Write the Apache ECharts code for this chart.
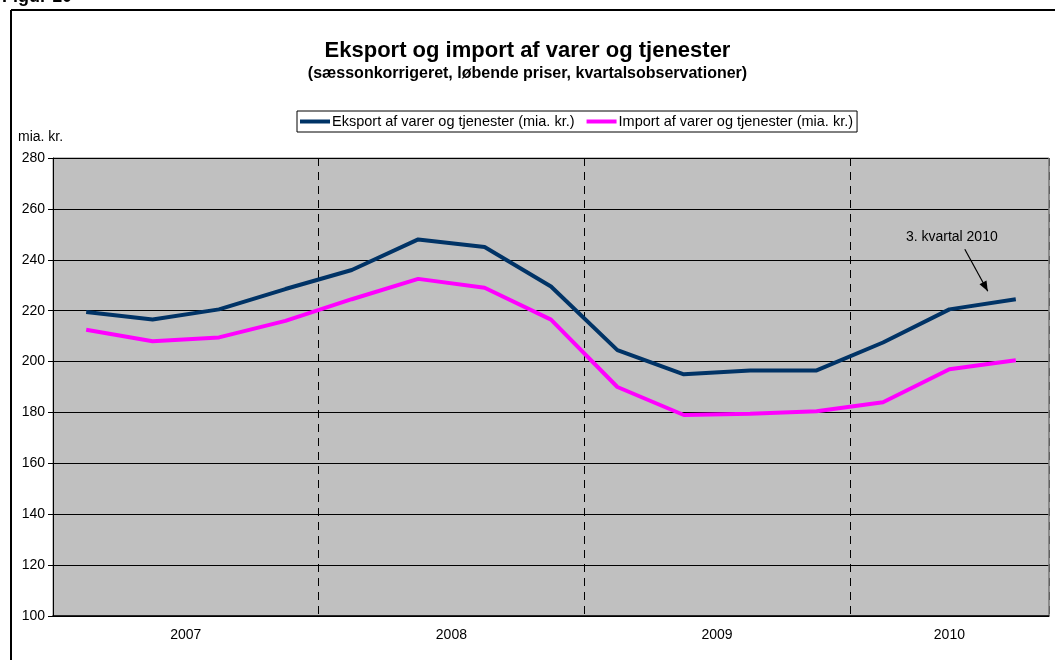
<!DOCTYPE html>
<html>
<head>
<meta charset="utf-8">
<script src="https://cdn.jsdelivr.net/npm/echarts@6/dist/echarts.min.js"></script>
<style>
  html, body { margin: 0; padding: 0; background: #fff; }
  #main { width: 1055px; height: 660px; }
</style>
</head>
<body>
<div id="main"></div>
<script>
// quarters 2007K1 .. 2010K3
var quarters = [
  '2007K1', '2007K2', '2007K3', '2007K4',
  '2008K1', '2008K2', '2008K3', '2008K4',
  '2009K1', '2009K2', '2009K3', '2009K4',
  '2010K1', '2010K2', '2010K3'
];
var years = ['2007', '2008', '2009', '2010'];
// centre of each year's quarters, in quarter units from the left edge
var yearCentres = [2, 6, 10, 13.5];
// first quarter of each new year gets a dashed separator
var yearStarts = ['2008K1', '2009K1', '2010K1'];

var eksport = [219.5, 216.5, 220.5, 228.5, 236, 248, 245, 229.5, 204.5, 195, 196.5, 196.5, 207.5, 220.5, 224.5];
var importData = [212.5, 208, 209.5, 216, 224.5, 232.5, 229, 216.5, 190, 179, 179.5, 180.5, 184, 197, 200.5];

var font = 'Arial, "Liberation Sans", sans-serif';

var myChart = echarts.init(document.getElementById('main'));

var option = {
  animation: false,
  backgroundColor: '#ffffff',
  textStyle: { fontFamily: font },
  title: {
    text: 'Eksport og import af varer og tjenester',
    subtext: '(sæssonkorrigeret, løbende priser, kvartalsobservationer)',
    left: 'center',
    top: 35,
    itemGap: 4,
    textStyle: { fontSize: 22, fontWeight: 'bold', color: '#000', fontFamily: font },
    subtextStyle: { fontSize: 16, fontWeight: 'bold', color: '#000', fontFamily: font }
  },
  legend: {
    top: 111,
    left: 297,
    padding: [3, 4, 3, 3],
    itemGap: 12,
    itemWidth: 30,
    itemHeight: 4,
    icon: 'rect',
    borderColor: '#000',
    borderWidth: 1,
    textStyle: { fontSize: 14.5, color: '#000', fontFamily: font, padding: [0, 0, 0, -3] },
    data: [
      'Eksport af varer og tjenester (mia. kr.)',
      'Import af varer og tjenester (mia. kr.)'
    ]
  },
  grid: {
    left: 53,
    right: 6,
    top: 158,
    bottom: 44,
    show: true,
    backgroundColor: '#c0c0c0',
    borderColor: '#808080',
    borderWidth: 1
  },
  xAxis: [
    {
      type: 'category',
      data: quarters,
      boundaryGap: true,
      axisLine: { lineStyle: { color: '#000', width: 1.5 } },
      axisTick: {
        length: 6,
        lineStyle: { color: '#000' },
        interval: function (index, value) { return index === 0 || yearStarts.indexOf(value) >= 0; }
      },
      axisLabel: { show: false },
      splitLine: {
        show: true,
        interval: function (index, value) { return yearStarts.indexOf(value) >= 0; },
        lineStyle: { color: '#000', type: [8, 6], width: 1 }
      }
    },
    {
      // year labels, placed at the centre of each year's quarters
      type: 'value',
      min: 0,
      max: quarters.length,
      position: 'bottom',
      axisLine: { show: false },
      axisTick: { show: false },
      splitLine: { show: false },
      axisLabel: {
        customValues: yearCentres,
        margin: 12,
        fontSize: 14,
        color: '#000',
        fontFamily: font,
        formatter: function (v) {
          return years[yearCentres.indexOf(v)];
        }
      }
    }
  ],
  yAxis: {
    type: 'value',
    min: 100,
    max: 280,
    interval: 20,
    name: 'mia. kr.',
    nameLocation: 'end',
    nameGap: 14,
    nameTextStyle: { fontSize: 14, color: '#000', align: 'left', padding: [0, 0, 0, -35], fontFamily: font },
    axisLine: { show: true, lineStyle: { color: '#000' } },
    axisTick: { show: true, length: 5, lineStyle: { color: '#000' } },
    axisLabel: { fontSize: 14, color: '#000', margin: 8, fontFamily: font },
    splitLine: { lineStyle: { color: '#000', width: 1 } }
  },
  series: [
    {
      name: 'Eksport af varer og tjenester (mia. kr.)',
      type: 'line',
      data: eksport,
      symbol: 'none',
      lineStyle: { color: '#003366', width: 4 },
      itemStyle: { color: '#003366' },
      z: 3
    },
    {
      name: 'Import af varer og tjenester (mia. kr.)',
      type: 'line',
      data: importData,
      symbol: 'none',
      lineStyle: { color: '#ff00ff', width: 4 },
      itemStyle: { color: '#ff00ff' },
      z: 2
    }
  ]
};

myChart.setOption(option);

// annotation pointing at the last export observation
var last = myChart.convertToPixel({ seriesIndex: 0 }, [quarters.length - 1, eksport[eksport.length - 1]]);
var tip = [last[0] - 28, last[1] - 8];
var tail = [last[0] - 51, last[1] - 50];
var ang = Math.atan2(tip[1] - tail[1], tip[0] - tail[0]);

// right edge of the plot area, drawn solid over the category split line
var rightX = myChart.convertToPixel({ xAxisIndex: 1 }, quarters.length);
var topY = myChart.convertToPixel({ yAxisIndex: 0 }, 280);
var botY = myChart.convertToPixel({ yAxisIndex: 0 }, 100);

myChart.setOption({
  graphic: [
    // outer frame of the figure
    { id: 'frameTop', type: 'line', shape: { x1: 11, y1: 10, x2: 1055, y2: 10 }, style: { stroke: '#000', lineWidth: 2 } },
    { id: 'frameLeft', type: 'line', shape: { x1: 11, y1: 10, x2: 11, y2: 660 }, style: { stroke: '#000', lineWidth: 2 } },
    {
      id: 'plotRight', type: 'line',
      shape: { x1: rightX, y1: topY, x2: rightX, y2: botY - 1 },
      style: { stroke: '#808080', lineWidth: 1.5 }
    },
    {
      id: 'figur', type: 'text', x: 2, y: -12,
      style: { text: 'Figur 10', font: 'bold 18px ' + font, fill: '#000' }
    },
    {
      id: 'noteText', type: 'text',
      x: last[0] - 64, y: last[1] - 62,
      style: { text: '3. kvartal 2010', font: '14px ' + font, fill: '#000', align: 'center', verticalAlign: 'middle' }
    },
    {
      id: 'noteLine', type: 'line',
      shape: { x1: tail[0], y1: tail[1], x2: tip[0], y2: tip[1] },
      style: { stroke: '#000', lineWidth: 1.2 }
    },
    {
      id: 'noteHead', type: 'polygon',
      x: tip[0], y: tip[1],
      rotation: -ang,
      shape: { points: [[0, 0], [-10, -4], [-10, 4]] },
      style: { fill: '#000' }
    }
  ]
});
</script>
</body>
</html>
